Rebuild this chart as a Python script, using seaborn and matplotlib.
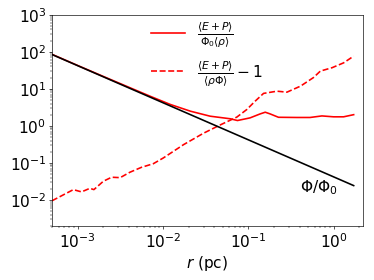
import numpy as np
import pandas as pd
import matplotlib
matplotlib.use("Agg")
import matplotlib.pyplot as plt
import seaborn as sns

# red solid: <E+P>/(Phi0 <rho>)
r_solid = [5e-4, 1e-3, 2e-3, 3.2e-3, 5e-3, 7.06e-3, 0.0122, 0.021, 0.0357, 0.0615,
           0.0747, 0.105, 0.138, 0.158, 0.18, 0.226, 0.37, 0.53, 0.73, 1.0, 1.31, 1.72]
y_solid = [85, 42.5, 21.5, 13.6, 8.8, 6.3, 3.77, 2.48, 1.82, 1.55,
           1.39, 1.64, 2.1, 2.33, 2.1, 1.7, 1.68, 1.68, 1.85, 1.75, 1.75, 2.0]

# red dashed: <E+P>/<rho Phi> - 1
r_dash = [5e-4, 8.9e-4, 1.11e-3, 1.39e-3, 1.55e-3, 2.0e-3, 2.5e-3, 3.15e-3, 4.1e-3,
          5.6e-3, 7.7e-3, 0.0101, 0.0151, 0.0174, 0.0298, 0.047, 0.0734, 0.096,
          0.12, 0.151, 0.217, 0.284, 0.41, 0.58, 0.70, 0.96, 1.31, 1.72]
y_dash = [0.0095, 0.019, 0.0165, 0.0206, 0.019, 0.032, 0.041, 0.040, 0.056,
          0.076, 0.095, 0.136, 0.25, 0.31, 0.63, 1.06, 1.72, 2.75,
          4.6, 7.5, 8.6, 8.1, 11.8, 20, 30, 37, 50, 76]

# black: Phi/Phi0
r_phi = [5e-4, 1e-3, 1e-2, 1e-1, 1.0, 1.72]
y_phi = [84, 42, 4.2, 0.42, 0.042, 0.0244]

solid = pd.DataFrame({'r': r_solid, 'y': y_solid})
dash = pd.DataFrame({'r': r_dash, 'y': y_dash})
phi = pd.DataFrame({'r': r_phi, 'y': y_phi})

fs = 19
plt.rcParams['xtick.labelsize'] = fs
plt.rcParams['ytick.labelsize'] = fs

fig, ax = plt.subplots(figsize=(6.4, 4.8), dpi=58.44)
sns.lineplot(data=solid, x='r', y='y', color='r', lw=2, estimator=None, sort=False, ax=ax,
             label=r'$\frac{\langle E+P\rangle}{\Phi_0\langle\rho\rangle}$')
sns.lineplot(data=dash, x='r', y='y', color='r', lw=2, ls='--', estimator=None, sort=False, ax=ax,
             label=r'$\frac{\langle E+P\rangle}{\langle\rho\Phi\rangle}-1$')
sns.lineplot(data=phi, x='r', y='y', color='k', lw=2, estimator=None, sort=False, ax=ax,
             legend=False)

ax.set_xscale('log')
ax.set_yscale('log')
ax.set_xlim(5e-4, 2.2)
ax.set_ylim(2e-3, 1e3)
ax.set_xlabel(r'$r$ (pc)', fontsize=fs)
ax.set_ylabel('')
ax.text(0.4, 0.0165, r'$\Phi/\Phi_0$', fontsize=fs)

handles, labels = ax.get_legend_handles_labels()
ax.legend(handles[:2], labels[:2], loc='upper center', bbox_to_anchor=(0.5, 1.04),
          frameon=False, fontsize=fs, handlelength=2.2, labelspacing=0.6)

fig.subplots_adjust(left=0.139, right=0.970, top=0.946, bottom=0.193)
fig.savefig('out.png')
